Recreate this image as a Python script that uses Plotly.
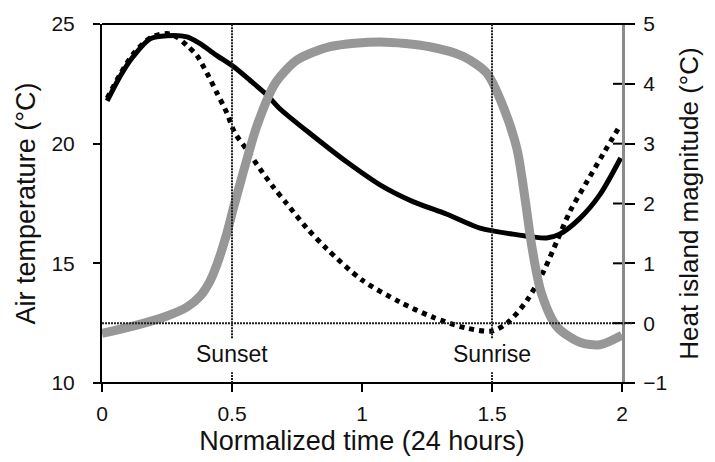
import plotly.graph_objects as go

# Solid black curve: air temperature (left axis, °C)
solid_x = [0.02, 0.07, 0.12, 0.185, 0.25, 0.327, 0.377, 0.442, 0.504, 0.569, 0.635, 0.685,
           0.81, 0.942, 1.069, 1.196, 1.327, 1.454, 1.58, 1.71, 1.76, 1.838, 1.915, 1.995]
solid_t = [21.79, 22.82, 23.64, 24.38, 24.51, 24.46, 24.18, 23.68, 23.23, 22.65, 22.03, 21.45,
           20.34, 19.23, 18.28, 17.58, 17.05, 16.47, 16.22, 16.06, 16.22, 16.88, 17.87, 19.4]

# Dotted black curve: air temperature (left axis, °C)
dot_x = [0.02, 0.07, 0.12, 0.19, 0.25, 0.288, 0.327, 0.365, 0.404, 0.442, 0.48, 0.51, 0.558,
         0.608, 0.658, 0.71, 0.788, 0.865, 1.0, 1.146, 1.27, 1.40, 1.5, 1.56, 1.635, 1.70,
         1.75, 1.8, 1.865, 1.927, 1.995]
dot_t = [21.9, 22.9, 23.75, 24.45, 24.6, 24.45, 24.1, 23.68, 22.94, 22.12, 21.29, 20.47, 19.73,
         18.94, 18.2, 17.5, 16.47, 15.6, 14.3, 13.38, 12.76, 12.3, 12.17, 12.52, 13.46, 14.7,
         15.94, 17.17, 18.41, 19.56, 20.8]

# Gray thick curve: heat island magnitude (right axis, °C)
hi_x = [0.0, 0.119, 0.25, 0.327, 0.377, 0.415, 0.442, 0.48, 0.504, 0.531, 0.558, 0.596, 0.658,
        0.685, 0.75, 0.877, 1.069, 1.26, 1.388, 1.48, 1.542, 1.596, 1.627, 1.654, 1.69, 1.75,
        1.838, 1.915, 2.0]
hi_h = [-0.17, -0.05, 0.12, 0.27, 0.45, 0.70, 0.98, 1.50, 1.90, 2.33, 2.75, 3.30, 3.95,
        4.12, 4.40, 4.62, 4.70, 4.62, 4.46, 4.18, 3.63, 2.91, 2.08, 1.26, 0.5, -0.06,
        -0.32, -0.36, -0.2]

x_ticks = [0, 0.5, 1, 1.5, 2]
x_tick_labels = ["0", "0.5", "1", "1.5", "2"]
left_ticks = [10, 15, 20, 25]
right_ticks = [-1, 0, 1, 2, 3, 4, 5]
events = [(0.5, "Sunset"), (1.5, "Sunrise")]

FONT = "Liberation Sans, Arial, sans-serif"

fig = go.Figure()
fig.add_trace(go.Scatter(x=hi_x, y=hi_h, yaxis="y2", mode="lines",
                         line=dict(color="#979797", width=9, shape="spline", smoothing=0.8),
                         showlegend=False, hoverinfo="skip"))
fig.add_trace(go.Scatter(x=dot_x, y=dot_t, mode="lines",
                         line=dict(color="black", width=5, dash="5px,5px", shape="spline", smoothing=0.8),
                         showlegend=False, hoverinfo="skip"))
fig.add_trace(go.Scatter(x=solid_x, y=solid_t, mode="lines",
                         line=dict(color="black", width=5, shape="spline", smoothing=0.8),
                         showlegend=False, hoverinfo="skip"))

shapes = []
shapes.append(dict(type="line", xref="paper", yref="y2", x0=0, x1=1.02, y0=0, y1=0,
                   line=dict(color="#222", width=2, dash="2px,1px")))
shapes.append(dict(type="line", xref="paper", yref="paper", x0=0, x1=1.02, y0=1, y1=1,
                   line=dict(color="black", width=2)))
shapes.append(dict(type="line", xref="paper", yref="paper", x0=-0.012, x1=1.02, y0=0, y1=0,
                   line=dict(color="black", width=2)))
for ex, label in events:
    shapes.append(dict(type="line", xref="x", yref="y2", x0=ex, x1=ex, y0=-0.25, y1=5,
                       line=dict(color="#222", width=2, dash="2px,1px")))
    shapes.append(dict(type="line", xref="x", yref="y2", x0=ex, x1=ex, y0=-1, y1=-0.82,
                       line=dict(color="#222", width=2, dash="2px,1px")))
for t in right_ticks[1:-1]:
    shapes.append(dict(type="line", xref="paper", yref="y2", x0=1 - 9 / 520, x1=1, y0=t, y1=t,
                       line=dict(color="black", width=2)))

annotations = []
for ex, label in events:
    annotations.append(dict(x=ex, y=-0.52, xref="x", yref="y2", text=label, showarrow=False,
                            font=dict(family=FONT, size=23, color="#111")))

fig.update_layout(
    width=715, height=462,
    margin=dict(l=102, r=93, t=20, b=78),
    paper_bgcolor="white", plot_bgcolor="white",
    font=dict(family=FONT, color="#111"),
    shapes=shapes, annotations=annotations,
    xaxis=dict(range=[0, 2], tickvals=x_ticks, ticktext=x_tick_labels,
               showgrid=False, zeroline=False, showline=False,
               ticks="outside", ticklen=8, tickwidth=2, tickcolor="black",
               tickfont=dict(size=21, family=FONT), ticklabelstandoff=4,
               title=dict(text="Normalized time (24 hours)", font=dict(size=27, family=FONT), standoff=6)),
    yaxis=dict(range=[10, 25], tickvals=left_ticks,
               showgrid=False, zeroline=False, showline=True, linecolor="black", linewidth=2,
               ticks="outside", ticklen=7, tickwidth=2, tickcolor="black",
               tickfont=dict(size=21, family=FONT), ticklabelstandoff=14,
               title=dict(text="Air temperature (°C)", font=dict(size=27, family=FONT), standoff=8)),
    yaxis2=dict(range=[-1, 5], tickvals=right_ticks, overlaying="y", side="right",
                showgrid=False, zeroline=False, showline=True, linecolor="#8a8a8a", linewidth=3,
                ticks="outside", ticklen=10, tickwidth=2, tickcolor="black",
                tickfont=dict(size=21, family=FONT), ticklabelstandoff=4,
                title=dict(text="Heat island magnitude (°C)", font=dict(size=26, family=FONT), standoff=14)),
)

fig.write_html("out.html")
